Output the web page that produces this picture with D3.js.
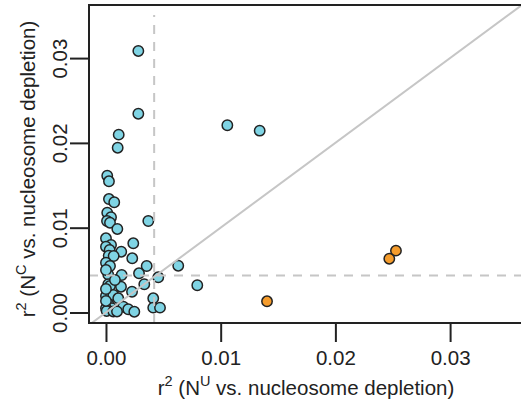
<!DOCTYPE html>
<html>
<head>
<meta charset="utf-8">
<script src="https://cdn.jsdelivr.net/npm/d3@7"></script>
<style>
  html, body { margin: 0; padding: 0; background: #fff; }
  svg { display: block; font-family: "Liberation Sans", Arial, Helvetica, sans-serif; }
</style>
</head>
<body>
<svg id="chart" width="521" height="408"></svg>
<script>
// ---- data ----
// r^2 of N^U vs nucleosome depletion (x) and N^C vs nucleosome depletion (y)
const cyanX = [0.00282,0.00282,0.00111,0.00102,0.01058,0.01340,0.00796,0.00630,
  0.00011,0.00026,0.00026,0.00072,0.00011,0.00044,0.00009,0.00035,0.00099,0.00369,
  0.00000,0.00044,0.00238,0.00000,0.00032,0.00133,0.00024,0.00067,0.00229,0.00000,
  0.00035,0.00355,0.00137,0.00288,0.00456,0.00020,0.00020,0.00334,0.00035,0.00131,
  0.00227,0.00000,0.00064,0.00107,0.00412,0.00020,0.00151,0.00050,0.00194,0.00247,
  0.00412,0.00471,0.00000,0.00006,0.00064,0.00000,0.00000,0.00078,0.00000,0.00096];
const cyanY = [0.03084,0.02344,0.02097,0.01943,0.02208,0.02144,0.00321,0.00552,
  0.01613,0.01547,0.01338,0.01300,0.01177,0.01123,0.01079,0.01059,0.00985,0.01079,
  0.00875,0.00796,0.00816,0.00776,0.00737,0.00717,0.00670,0.00666,0.00639,0.00587,
  0.00548,0.00548,0.00442,0.00462,0.00415,0.00446,0.00333,0.00333,0.00313,0.00304,
  0.00245,0.00195,0.00206,0.00167,0.00167,0.00100,0.00068,0.00050,0.00038,0.00009,
  0.00057,0.00057,0.00050,0.00018,0.00012,0.00277,0.00501,0.00383,0.00136,0.00012];
const orangeX = [0.01404, 0.02470, 0.02528];
const orangeY = [0.00132, 0.00634, 0.00729];
const thresholdX = 0.0042;
const thresholdY = 0.00435;
const xTicks = [0, 0.01, 0.02, 0.03];
const yTicks = [0, 0.01, 0.02, 0.03];
const xTitle = ["r", "2", " (N", "U", " vs. nucleosome depletion)"];
const yTitle = ["r", "2", " (N", "C", " vs. nucleosome depletion)"];

// ---- layout ----
const pLeft = 89, pRight = 525, pTop = 5, pBottom = 323;
const xDomain = [-0.00148, 0.03653];
const yDomain = [-0.00124, 0.03626];
const ink = "#222";
const guide = "#c6c6c6";

const svg = d3.select("#chart");
const x = d3.scaleLinear().domain(xDomain).range([pLeft, pRight]);
const y = d3.scaleLinear().domain(yDomain).range([pBottom, pTop]);

svg.append("defs").append("clipPath").attr("id", "plotclip")
  .append("rect").attr("x", pLeft).attr("y", pTop)
  .attr("width", pRight - pLeft).attr("height", pBottom - pTop);

const plot = svg.append("g").attr("clip-path", "url(#plotclip)");

const cyan = cyanX.map((v, i) => ({x: v, y: cyanY[i]}));
const orange = orangeX.map((v, i) => ({x: v, y: orangeY[i]}));

plot.selectAll("circle.c").data(cyan).join("circle")
  .attr("class", "c")
  .attr("cx", d => x(d.x)).attr("cy", d => y(d.y)).attr("r", 5.2)
  .attr("fill", "#7fd4e4").attr("stroke", ink).attr("stroke-width", 1.5);
plot.selectAll("circle.o").data(orange).join("circle")
  .attr("class", "o")
  .attr("cx", d => x(d.x)).attr("cy", d => y(d.y)).attr("r", 5.2)
  .attr("fill", "#f59c2c").attr("stroke", ink).attr("stroke-width", 1.5);

// guide lines drawn over points
plot.append("line")
  .attr("x1", x(xDomain[0])).attr("y1", y(xDomain[0]))
  .attr("x2", x(yDomain[1])).attr("y2", y(yDomain[1]))
  .attr("stroke", guide).attr("stroke-width", 2);
plot.append("line")
  .attr("x1", x(thresholdX)).attr("x2", x(thresholdX))
  .attr("y1", pBottom).attr("y2", pTop + 10)
  .attr("stroke", guide).attr("stroke-width", 2).attr("stroke-dasharray", "9,8");
plot.append("line")
  .attr("x1", pLeft).attr("x2", pRight)
  .attr("y1", y(thresholdY)).attr("y2", y(thresholdY))
  .attr("stroke", guide).attr("stroke-width", 2).attr("stroke-dasharray", "9,8");

// axes
const fmt = d3.format(".2f");
const gx = svg.append("g").attr("transform", `translate(0,${pBottom})`)
  .call(d3.axisBottom(x).tickValues(xTicks).tickFormat(fmt).tickSize(19).tickSizeOuter(0).tickPadding(8));
const gy = svg.append("g").attr("transform", `translate(${pLeft},0)`)
  .call(d3.axisLeft(y).tickValues(yTicks).tickFormat(fmt).tickSize(19).tickSizeOuter(0));
[gx, gy].forEach(g => {
  g.select(".domain").remove();
  g.selectAll(".tick line").attr("stroke", ink).attr("stroke-width", 2);
  g.selectAll(".tick text").attr("fill", ink).style("font-size", "20.5px")
    .style("font-family", '"Liberation Sans", Arial, Helvetica, sans-serif');
});
gy.selectAll(".tick text")
  .attr("x", null).attr("dy", null).attr("text-anchor", "middle")
  .attr("transform", "translate(-22,0) rotate(-90)");

// box (top, left, bottom; right side lies outside the window)
svg.append("path")
  .attr("d", `M${pRight},${pTop}H${pLeft}V${pBottom}H${pRight}`)
  .attr("fill", "none").attr("stroke", ink).attr("stroke-width", 2);

function title(parts, sel) {
  parts.forEach((p, i) => {
    const sup = i % 2 === 1;
    const t = sel.append("tspan").text(p);
    if (sup) t.attr("dy", -9).style("font-size", "14.5px");
    else if (i > 0) t.attr("dy", 9);
  });
}
const xt = svg.append("text").attr("x", (pLeft + pRight) / 2 - 1).attr("y", 395)
  .attr("text-anchor", "middle").attr("fill", ink).style("font-size", "20.5px");
title(xTitle, xt);
const yt = svg.append("text").attr("transform", `translate(35,${(pTop + pBottom) / 2 + 5}) rotate(-90)`)
  .attr("text-anchor", "middle").attr("fill", ink).style("font-size", "20.5px");
title(yTitle, yt);
</script>
</body>
</html>
